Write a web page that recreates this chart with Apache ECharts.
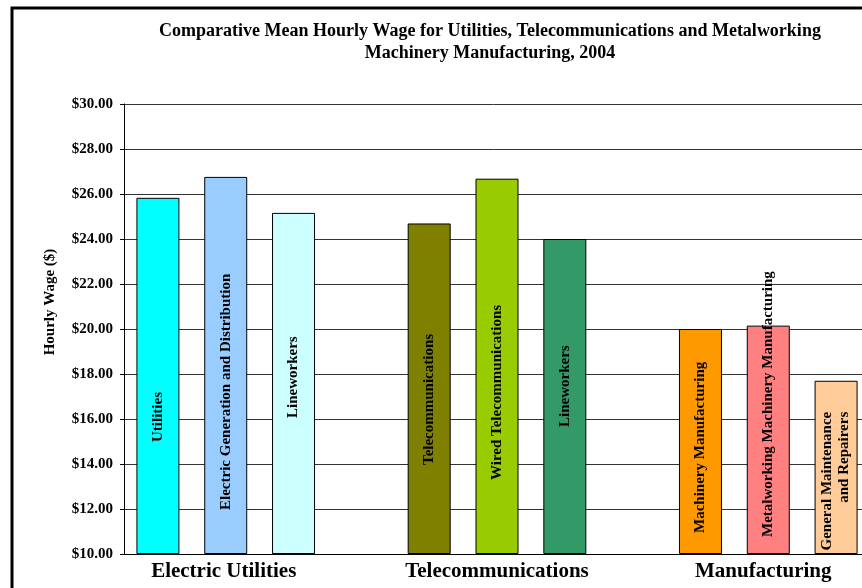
<!DOCTYPE html>
<html><head><meta charset="utf-8">
<script src="https://cdn.jsdelivr.net/npm/echarts@6/dist/echarts.min.js"></script>
<style>html,body{margin:0;padding:0;background:#fff}#c{width:862px;height:588px}</style>
</head><body><div id="c"></div>
<script>
// ---- data ----
const titleText = 'Comparative Mean Hourly Wage for Utilities, Telecommunications and Metalworking\nMachinery Manufacturing, 2004';
const yAxisTitle = 'Hourly Wage ($)';
const groups = ['Electric Utilities', 'Telecommunications', 'Manufacturing'];
const electricNames = ['Utilities', 'Electric Generation and Distribution', 'Lineworkers'];
const telecomNames = ['Telecommunications', 'Wired Telecommunications', 'Lineworkers'];
const manufNames = ['Machinery Manufacturing', 'Metalworking Machinery Manufacturing', 'General Maintenance\nand Repairers'];
const electricWages = [25.83, 26.76, 25.16];
const telecomWages = [24.69, 26.68, 24.00];
const manufWages = [20.00, 20.15, 17.70];
const yMin = 10, yMax = 30, yStep = 2;

// ---- styles ----
const FONT = 'Liberation Serif';
const barColors = [['#00FFFF', '#99CCFF', '#CCFFFF'], ['#808000', '#99CC00', '#339966'], ['#FF9900', '#FF8080', '#FFCC99']];
const labelPlace = [
  [{pos: 'insideBottom', dist: 112, align: 'left'}, {pos: 'insideBottom', dist: 44, align: 'left'}, {pos: 'insideBottom', dist: 136, align: 'left'}],
  [{pos: 'insideBottom', dist: 89, align: 'left'}, {pos: 'insideBottom', dist: 74, align: 'left'}, {pos: 'insideBottom', dist: 127, align: 'left'}],
  [{pos: 'insideBottom', dist: 21, align: 'left'}, {pos: 'insideBottom', dist: 17, align: 'left'}, {pos: 'insideTop', dist: 31, align: 'right'}]
];
const groupLabelPadRight = [4, 0, 10];

const groupNames = [electricNames, telecomNames, manufNames];
const groupWages = [electricWages, telecomWages, manufWages];

const slots = [], slotLabels = [], seriesData = [];
groups.forEach((g, gi) => {
  groupNames[gi].forEach((n, j) => {
    slots.push('s' + gi + '_' + j);
    slotLabels.push(j === 1 ? '{g' + gi + '|' + g + '}' : '');
    const lp = labelPlace[gi][j];
    seriesData.push({
      value: groupWages[gi][j],
      itemStyle: {color: barColors[gi][j]},
      label: {
        show: true, formatter: n, rotate: 90,
        position: lp.pos, distance: lp.dist, align: lp.align, verticalAlign: 'middle',
        fontFamily: FONT, fontWeight: 'bold', fontSize: 15, color: '#000', lineHeight: 17
      }
    });
  });
  if (gi < groups.length - 1) {
    slots.push('gap' + gi);
    slotLabels.push('');
    seriesData.push('-');
  }
});
const groupRich = {};
groups.forEach((g, gi) => {
  groupRich['g' + gi] = {fontFamily: FONT, fontWeight: 'bold', fontSize: 21, color: '#000', padding: [0, groupLabelPadRight[gi], 0, 0]};
});

const chart = echarts.init(document.getElementById('c'), null, {renderer: 'canvas'});
chart.setOption({
  animation: false,
  backgroundColor: '#fff',
  title: {
    text: titleText, left: 490, top: 20, textAlign: 'center', padding: 0,
    textStyle: {fontFamily: FONT, fontWeight: 'bold', fontSize: 18, lineHeight: 22, color: '#000'}
  },
  grid: {left: 124, width: 746, top: 104, bottom: 34, containLabel: false, outerBoundsMode: 'none'},
  xAxis: {
    type: 'category', data: slots,
    axisLine: {show: true, lineStyle: {color: '#000', width: 1}},
    axisTick: {show: false},
    splitLine: {show: false},
    axisLabel: {
      interval: 0, margin: 7, formatter: (v, i) => slotLabels[i],
      fontFamily: FONT, fontWeight: 'bold', fontSize: 21, color: '#000', rich: groupRich
    }
  },
  yAxis: {
    type: 'value', min: yMin, max: yMax, interval: yStep, startValue: yMin,
    axisLine: {show: true, lineStyle: {color: '#000', width: 1}},
    axisTick: {show: true, length: 4, inside: false, lineStyle: {color: '#000'}},
    axisLabel: {
      margin: 11, formatter: v => '$' + v.toFixed(2),
      fontFamily: FONT, fontWeight: 'bold', fontSize: 15, color: '#000'
    },
    splitLine: {show: true, lineStyle: {color: '#333', width: 1}}
  },
  series: [{
    type: 'bar', data: seriesData, barWidth: 43, clip: true,
    itemStyle: {borderColor: '#000', borderWidth: 1}
  }],
  graphic: [
    {type: 'rect', shape: {x: 12, y: 8, width: 900, height: 700}, style: {fill: null, stroke: '#000', lineWidth: 3}, z: 100},
    {type: 'text', x: 50, y: 302, rotation: Math.PI / 2,
     style: {text: yAxisTitle, align: 'center', verticalAlign: 'middle', fontFamily: FONT, fontWeight: 'bold', fontSize: 15, fill: '#000'}}
  ]
});
</script></body></html>
